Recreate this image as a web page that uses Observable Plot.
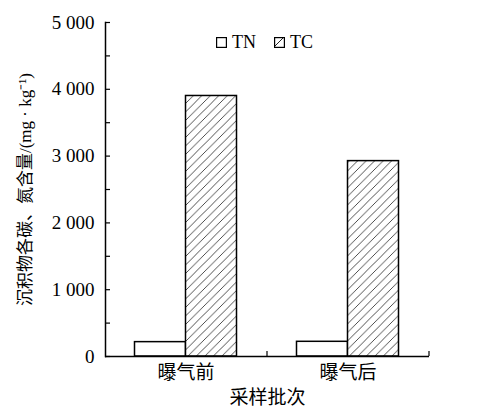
<!DOCTYPE html>
<html>
<head>
<meta charset="utf-8">
<script src="https://cdn.jsdelivr.net/npm/d3@7"></script>
<script src="https://cdn.jsdelivr.net/npm/@observablehq/plot@0.6"></script>
<style>
  body { margin: 0; background: #fff; }
  #chart { position: relative; width: 486px; height: 409px; }
  #chart svg { display: block; }
  .legend { position: absolute; top: 32px; left: 216px; display: flex; align-items: center;
            font-family: "Liberation Serif", "Times New Roman", serif; font-size: 18px; color: #000; }
  .legend .item { display: flex; align-items: center; margin-right: 18px; }
  .legend svg { margin-right: 5px; }
</style>
</head>
<body>
<div id="chart"></div>
<script>
// Sampling batches and measured contents (mg/kg)
const groups = ["曝气前", "曝气后"];
const seriesNames = ["TN", "TC"];
const tnValues = [215, 220];
const tcValues = [3900, 2925];
const yTicks = [0, 1000, 2000, 3000, 4000, 5000];
const yMinorTicks = [500, 1500, 2500, 3500, 4500];
const yLabel = "沉积物各碳、氮含量/(mg · kg⁻¹)";
const xLabel = "采样批次";

const rows = groups.flatMap((g, i) => [
  {group: g, series: seriesNames[0], value: tnValues[i]},
  {group: g, series: seriesNames[1], value: tcValues[i]}
]);

const fmt = d => d3.format(",")(d).replace(/,/g, " ");
const latin = "Liberation Serif, Times New Roman, serif";
const cjk = "Noto Sans CJK SC, sans-serif";

const chart = Plot.plot({
  width: 486,
  height: 409,
  marginLeft: 105,
  marginRight: 57,
  marginTop: 22,
  marginBottom: 53,
  style: {fontFamily: latin, fontSize: "19px", color: "#000", background: "#fff"},
  x: {domain: groups, paddingInner: 0.685, paddingOuter: 0.3425},
  y: {domain: [0, 5000]},
  marks: [
    // TN bars (left of each group centre), TC bars (right, hatched)
    Plot.barY(rows.filter(d => d.series === "TN"), {
      x: "group", y: "value", dx: -25.5, fill: "white", stroke: "black", strokeWidth: 1.5
    }),
    Plot.barY(rows.filter(d => d.series === "TC"), {
      x: "group", y: "value", dx: 25.5, fill: "url(#hatch)", stroke: "black", strokeWidth: 1.5
    }),
    // axis lines
    Plot.ruleY([0], {stroke: "black", strokeWidth: 1.5}),
    Plot.frame({anchor: "left", stroke: "black", strokeWidth: 1.5}),
    // inward ticks on the x axis at group boundaries
    Plot.ruleX(groups, {x: d => d, y1: 0, y2: 0, insetTop: -5, dx: 81, stroke: "black", strokeWidth: 1.2}),
    // y axis: inward major + minor ticks, then labels
    Plot.axisY({ticks: yTicks, tickSize: -5, tickFormat: () => "", strokeWidth: 1.2, label: null}),
    Plot.axisY({ticks: yMinorTicks, tickSize: -5, tickFormat: () => "", strokeWidth: 1.2, label: null}),
    Plot.axisY({
      ticks: yTicks, tickSize: 0, tickPadding: 11, tickFormat: fmt,
      label: yLabel, labelAnchor: "center", labelOffset: 87, labelArrow: "none",
      fontFamily: latin
    }),
    Plot.axisX({
      tickSize: 0, tickPadding: 9, fontFamily: cjk, fontSize: 19,
      label: xLabel, labelAnchor: "center", labelOffset: 47, labelArrow: "none"
    })
  ]
});

// diagonal hatch used by the TC bars
chart.insertAdjacentHTML("afterbegin",
  `<defs><pattern id="hatch" patternUnits="userSpaceOnUse" width="8.5" height="8.5">
     <rect width="8.5" height="8.5" fill="white"/>
     <path d="M-2,2 L2,-2 M0,8.5 L8.5,0 M6.5,10.5 L10.5,6.5" stroke="#222" stroke-width="0.8"/>
   </pattern>
   <pattern id="hatchKey" patternUnits="userSpaceOnUse" width="10" height="10">
     <rect width="10" height="10" fill="white"/>
     <path d="M0,10 L10,0" stroke="#222" stroke-width="1"/>
   </pattern></defs>`);

// axis titles: Latin units in serif, CJK falls back; drop any direction arrow
chart.querySelectorAll("[aria-label='y-axis label'] text").forEach(t => {
  t.textContent = t.textContent.replace(/[↑↓←→]/g, "").trim();
  t.setAttribute("font-family", `${latin}, ${cjk}`);
  t.setAttribute("font-size", "17");
});
chart.querySelectorAll("[aria-label='x-axis label'] text").forEach(t => {
  t.textContent = t.textContent.replace(/[↑↓←→]/g, "").trim();
  t.setAttribute("font-family", cjk);
  t.setAttribute("font-size", "19");
});

const root = document.getElementById("chart");
root.appendChild(chart);

// legend drawn inside the plot area
const legend = document.createElement("div");
legend.className = "legend";
legend.innerHTML = seriesNames.map((name, i) =>
  `<span class="item"><svg width="11" height="11"><rect x="0.6" y="0.6" width="9.8" height="9.8"
     fill="${i === 0 ? "white" : "url(#hatchKey)"}" stroke="black" stroke-width="1.2"/></svg>${name}</span>`
).join("");
root.appendChild(legend);
</script>
</body>
</html>
